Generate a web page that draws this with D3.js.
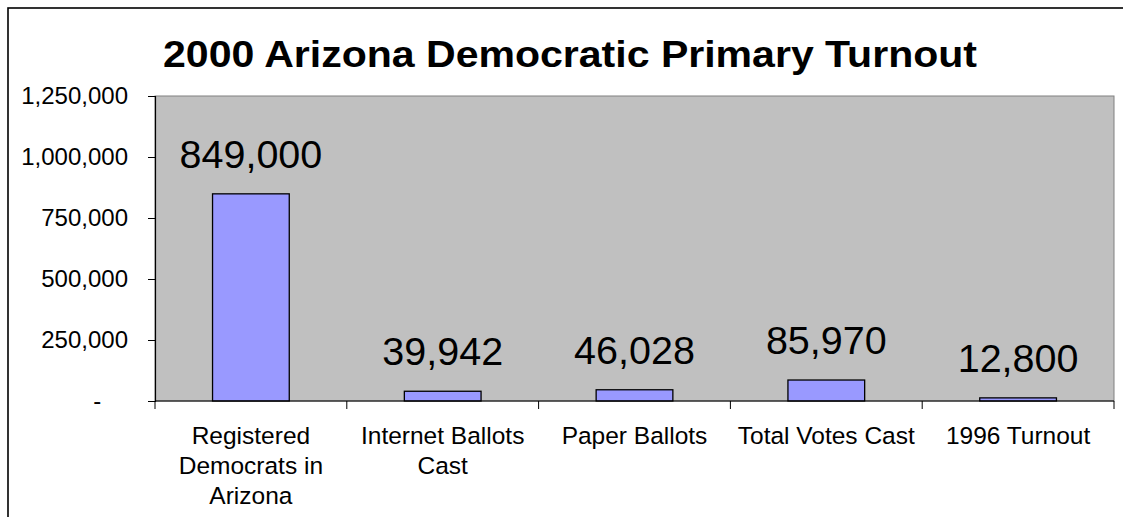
<!DOCTYPE html>
<html>

<head>
    <title>2000 Arizona Democratic Primary Turnout</title>
    <script src="https://d3js.org/d3.v7.min.js"></script>
    <style>
        body {
            margin: 0;
            background: #fff;
            font-family: Arial, "Liberation Sans", sans-serif;
        }

        .bar {
            fill: #9999ff;
            stroke: #000;
            stroke-width: 1.3px;
        }
    </style>
</head>

<body>
    <div id="chart"></div>

    <script>
        const categories = [
            ["Registered", "Democrats in", "Arizona"],
            ["Internet Ballots", "Cast"],
            ["Paper Ballots"],
            ["Total Votes Cast"],
            ["1996 Turnout"]
        ];
        const values = [849000, 39942, 46028, 85970, 12800];
        const yTicks = [0, 250000, 500000, 750000, 1000000, 1250000];

        const width = 1123,
            height = 517;
        const margin = { top: 96, right: 9, bottom: 116, left: 155 };

        const svg = d3.select("#chart").append("svg")
            .attr("width", width)
            .attr("height", height);

        // outer chart frame (runs off the right and bottom of the picture)
        svg.append("rect")
            .attr("x", 8).attr("y", 8)
            .attr("width", width + 20).attr("height", height + 20)
            .attr("fill", "none")
            .attr("stroke", "#000")
            .attr("stroke-width", 1.6);

        var xScale = d3.scaleBand()
            .domain(d3.range(categories.length))
            .range([margin.left, width - margin.right])
            .paddingInner(0).paddingOuter(0);
        var yScale = d3.scaleLinear()
            .domain([0, 1250000])
            .range([height - margin.bottom, margin.top]);

        // plot area
        svg.append("rect")
            .attr("x", margin.left)
            .attr("y", margin.top)
            .attr("width", width - margin.right - margin.left)
            .attr("height", height - margin.bottom - margin.top)
            .attr("fill", "#c0c0c0")
            .attr("stroke", "#808080")
            .attr("stroke-width", 1);

        // bars
        const barW = xScale.bandwidth() * 0.4;
        svg.selectAll(".bar")
            .data(values)
            .enter().append("rect")
            .attr("class", "bar")
            .attr("x", (d, i) => xScale(i) + (xScale.bandwidth() - barW) / 2)
            .attr("y", d => yScale(d))
            .attr("width", barW)
            .attr("height", d => yScale(0) - yScale(d));

        // value labels
        svg.selectAll(".val")
            .data(values)
            .enter().append("text")
            .attr("class", "val")
            .attr("x", (d, i) => xScale(i) + xScale.bandwidth() / 2)
            .attr("y", d => yScale(d) - 26)
            .attr("text-anchor", "middle")
            .style("font-size", "39.5px")
            .text(d => d3.format(",")(d));

        // y axis
        const yAxis = svg.append("g")
            .attr("transform", "translate(" + margin.left + ",0)")
            .call(d3.axisLeft(yScale)
                .tickValues(yTicks)
                .tickSize(7)
                .tickPadding(20)
                .tickFormat(d => d === 0 ? "-\u00a0\u00a0\u00a0\u00a0" : d3.format(",")(d)));
        yAxis.select(".domain").attr("stroke", "#000").attr("stroke-width", 1.2);
        yAxis.selectAll("text")
            .style("font-family", "Arial, 'Liberation Sans', sans-serif")
            .style("font-size", "24px")
            .attr("fill", "#000");

        // x axis: ticks at category boundaries
        const xAxis = svg.append("g")
            .attr("transform", "translate(0," + (height - margin.bottom) + ")");
        xAxis.append("line")
            .attr("x1", margin.left).attr("x2", width - margin.right)
            .attr("stroke", "#000").attr("stroke-width", 1.2);
        const bounds = d3.range(categories.length + 1);
        xAxis.selectAll(".xtick")
            .data(bounds)
            .enter().append("line")
            .attr("class", "xtick")
            .attr("x1", d => d < categories.length ? xScale(d) : width - margin.right)
            .attr("x2", d => d < categories.length ? xScale(d) : width - margin.right)
            .attr("y1", 0).attr("y2", 8)
            .attr("stroke", "#000").attr("stroke-width", 1);

        // category labels
        const cat = svg.selectAll(".cat")
            .data(categories)
            .enter().append("text")
            .attr("class", "cat")
            .attr("text-anchor", "middle")
            .style("font-size", "24.5px");
        cat.selectAll("tspan")
            .data((d, i) => d.map(line => ({ line: line, i: i })))
            .enter().append("tspan")
            .attr("x", d => xScale(d.i) + xScale.bandwidth() / 2)
            .attr("y", (d, j) => height - margin.bottom + 43 + j * 30)
            .text(d => d.line);

        // title
        svg.append("text")
            .attr("x", 570)
            .attr("y", 67)
            .attr("text-anchor", "middle")
            .attr("textLength", 814)
            .attr("lengthAdjust", "spacingAndGlyphs")
            .style("font-size", "37px")
            .style("font-weight", "bold")
            .text("2000 Arizona Democratic Primary Turnout");
    </script>
</body>

</html>
